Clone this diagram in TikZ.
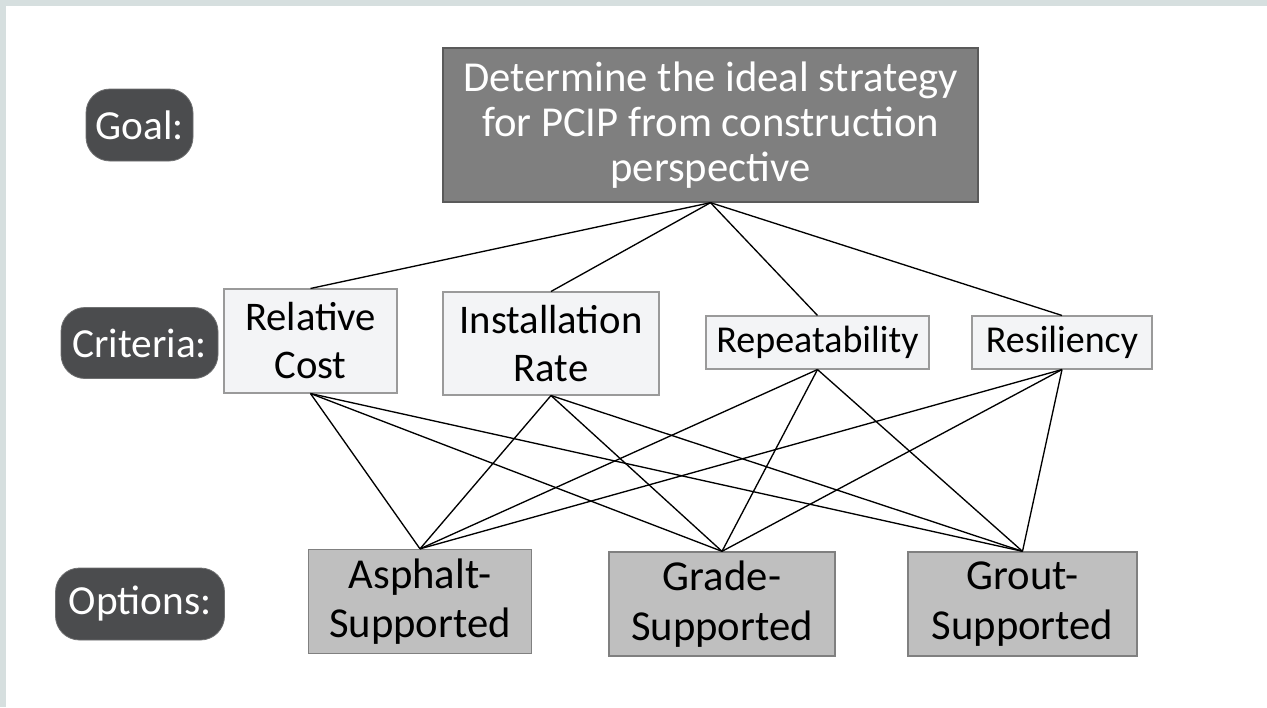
\documentclass[tikz,border=0pt]{standalone}
\usepackage{fontspec}
\setmainfont{Carlito}
\begin{document}
\begin{tikzpicture}[x=0.75pt,y=-0.75pt,
  every node/.style={inner sep=0pt, align=center},
  pill/.style={fill=pillgray, text=white, rounded corners=24*0.75pt, draw=pillgray!80!white, line width=0.6pt, font=\fontsize{31}{34}\selectfont},
  goalbox/.style={fill=goalgray, draw=goaledge, line width=1pt, text=white, minimum width=535*0.75pt, minimum height=154*0.75pt, font=\fontsize{32}{34}\selectfont},
  critbox/.style={fill=critfill, draw=critedge, line width=0.8pt, text=black, font=\fontsize{30.5}{36}\selectfont},
  critone/.style={critbox, font=\fontsize{28.5}{34}\selectfont},
  optbox/.style={fill=optfill, draw=optedge, line width=1pt, text=black, minimum height=104*0.75pt, font=\fontsize{32}{37}\selectfont},
  link/.style={draw=black, line width=1pt}]
\definecolor{framecol}{HTML}{D6DFDF}
\definecolor{pillgray}{HTML}{4B4C4E}
\definecolor{goalgray}{HTML}{7F7F7F}
\definecolor{goaledge}{HTML}{5A5A5A}
\definecolor{critfill}{HTML}{F3F4F6}
\definecolor{critedge}{HTML}{9A9A9A}
\definecolor{optfill}{HTML}{BFBFBF}
\definecolor{optedge}{HTML}{808080}

% canvas with a light band along the top and left
\fill[framecol] (0,0) rectangle (1267,707);
\fill[white] (6,6) rectangle (1267,707);
\useasboundingbox (0,0) rectangle (1267,707);

% level labels
\node[pill, minimum width=107*0.75pt, minimum height=72*0.75pt] (lgoal) at (139.5,125) {Goal:};
\node[pill, minimum width=157*0.75pt, minimum height=71*0.75pt] (lcrit) at (139.5,343) {Criteria:};
\node[pill, minimum width=169*0.75pt, minimum height=72*0.75pt] (lopt) at (140,604) {Options:};

% goal
\node[goalbox] (goal) at (710.5,125) {Determine the ideal strategy\\for PCIP from construction\\perspective};

% criteria
\node[critbox, minimum width=173*0.75pt, minimum height=104*0.75pt] (cost) at (310.5,341) {Relative\\Cost};
\node[critbox, minimum width=216*0.75pt, minimum height=103*0.75pt] (rate) at (551,343.5) {Installation\\Rate};
\node[critone, minimum width=223*0.75pt, minimum height=53*0.75pt] (rep) at (817.5,342.5) {Repeatability};
\node[critone, minimum width=180*0.75pt, minimum height=53*0.75pt] (res) at (1062,342.5) {Resiliency};

% options
\node[optbox, minimum width=223*0.75pt] (asph) at (420,601.5) {Asphalt-\\Supported};
\node[optbox, minimum width=226*0.75pt] (grade) at (722,604) {Grade-\\Supported};
\node[optbox, minimum width=229*0.75pt] (grout) at (1022.5,604) {Grout-\\Supported};

% goal to criteria
\foreach \c in {cost,rate,rep,res}
  \draw[link] (goal.south) -- (\c.north);

% every criterion to every option
\foreach \c in {cost,rate,rep,res}
  \foreach \o in {asph,grade,grout}
    \draw[link] (\c.south) -- (\o.north);
\end{tikzpicture}
\end{document}
